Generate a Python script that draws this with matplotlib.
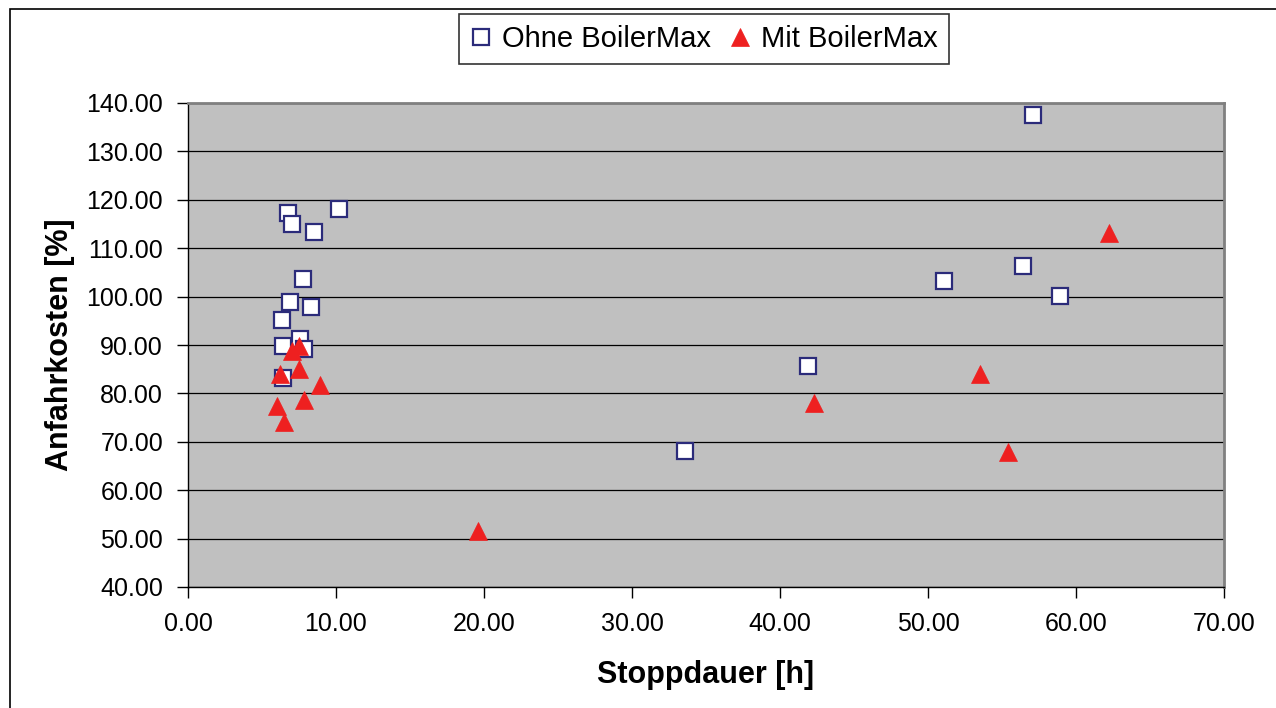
"""
Anfahrkosten vs. Stoppdauer, mit und ohne BoilerMax.

Scatter of start-up cost [%] over stop duration [h].

Outputs:
  out.png
"""
from __future__ import annotations

import matplotlib
matplotlib.use("Agg")
import matplotlib.pyplot as plt
from matplotlib.patches import Rectangle

# Ohne BoilerMax (squares)
OHNE_X = [6.78, 7.01, 10.20, 8.53, 7.77, 6.89, 8.31, 6.33, 7.57, 6.44, 7.86, 6.44,
          33.6, 41.9, 51.1, 56.4, 58.9, 57.1]
OHNE_Y = [117.2, 115.1, 118.2, 113.4, 103.6, 98.8, 97.9, 95.2, 91.3, 89.8, 89.1, 83.2,
          68.0, 85.6, 103.3, 106.3, 100.2, 137.5]

# Mit BoilerMax (triangles)
MIT_X = [7.04, 7.49, 7.50, 6.22, 8.92, 7.84, 6.03, 6.49,
         19.6, 42.3, 53.5, 55.4, 62.25]
MIT_Y = [88.8, 89.8, 85.0, 84.0, 81.7, 78.7, 77.3, 74.1,
         51.6, 78.0, 84.1, 67.8, 113.2]

X_TICKS = [0, 10, 20, 30, 40, 50, 60, 70]
Y_TICKS = [40, 50, 60, 70, 80, 90, 100, 110, 120, 130, 140]

FONT = ["Liberation Sans", "DejaVu Sans"]


def _plot(path: str = "out.png"):
    plt.rcParams["font.family"] = FONT
    W, H = 1276, 708
    fig = plt.figure(figsize=(W / 100, H / 100), dpi=100)
    ax = fig.add_axes([188 / W, 1 - 587 / H, (1224 - 188) / W, (587 - 103) / H])

    ax.set_facecolor("#c0c0c0")
    ax.set_xlim(0, 70)
    ax.set_ylim(40, 140)
    ax.set_xticks(X_TICKS)
    ax.set_yticks(Y_TICKS)
    ax.set_xticklabels([f"{v:.2f}" for v in X_TICKS])
    ax.set_yticklabels([f"{v:.2f}" for v in Y_TICKS])
    ax.tick_params(axis="both", direction="out", length=8, width=1,
                   labelsize=18, pad=10, color="black")
    ax.yaxis.grid(True, color="black", linewidth=0.9)
    ax.set_axisbelow(True)

    for side in ("left", "bottom"):
        ax.spines[side].set_color("black")
        ax.spines[side].set_linewidth(1)
    for side in ("top", "right"):
        ax.spines[side].set_color("#808080")
        ax.spines[side].set_linewidth(2)

    ax.plot(OHNE_X, OHNE_Y, linestyle="none", marker="s", markersize=11,
            markerfacecolor="white", markeredgecolor="#2b2b7a", markeredgewidth=1.6,
            label="Ohne BoilerMax", clip_on=False, zorder=3)
    ax.plot(MIT_X, MIT_Y, linestyle="none", marker="^", markersize=13.5,
            markerfacecolor="#ee2020", markeredgecolor="#ee2020", markeredgewidth=0.5,
            label="Mit BoilerMax", clip_on=False, zorder=4)

    ax.set_xlabel("Stoppdauer [h]", fontsize=22, fontweight="bold", labelpad=17)
    ax.set_ylabel("Anfahrkosten [%]", fontsize=22, fontweight="bold", labelpad=8)

    leg = fig.legend(loc="upper center", bbox_to_anchor=(704 / W, 1 - 14 / H),
                     ncol=2, fontsize=21, frameon=True, fancybox=False,
                     handletextpad=0.35, columnspacing=0.6, handlelength=0.75,
                     borderpad=0.38, borderaxespad=0)
    leg.get_frame().set_edgecolor("black")
    leg.get_frame().set_linewidth(1.2)

    # outer chart frame (only left/top are inside the crop)
    fig.add_artist(Rectangle((10 / W, -0.5), 1.5, 1.5 - 9 / H, transform=fig.transFigure,
                             fill=False, edgecolor="black", linewidth=1.2))

    fig.savefig(path, dpi=100)
    plt.close(fig)


if __name__ == "__main__":
    _plot()
